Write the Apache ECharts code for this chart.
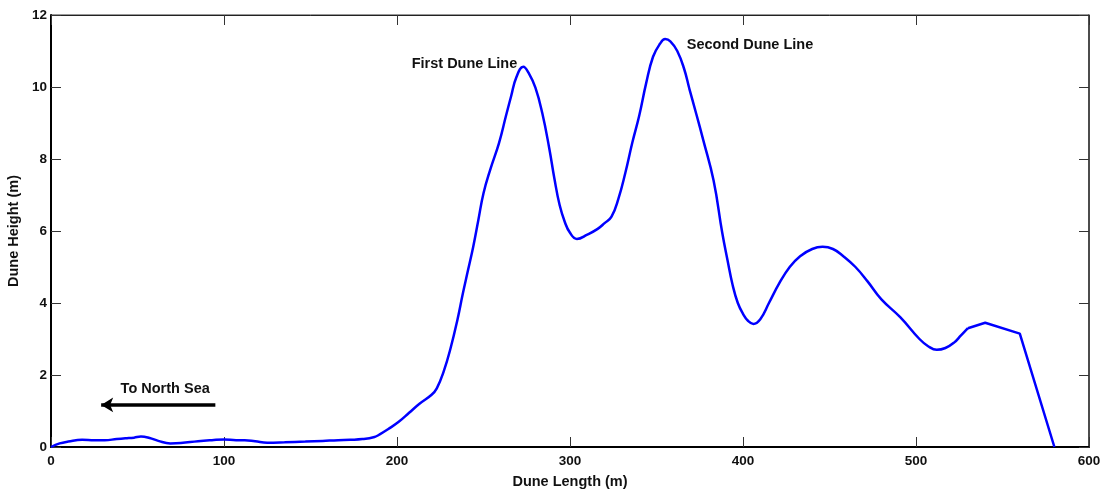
<!DOCTYPE html>
<html><head><meta charset="utf-8">
<script src="https://cdn.jsdelivr.net/npm/echarts@6/dist/echarts.min.js"></script>
<style>html,body{margin:0;padding:0;background:#fff}#c{width:1106px;height:491px}</style>
</head><body><div id="c"></div>
<script>
const dist = [0,5,10,18,25,31,38,43,48,52,57,62,69,75,85,93,100,107,112,118,125,135,147,157,166,173,180,187,190,195,201,207,213,220,223,227,231,235,238,241,244,247,250,254,259,263,266,269,273,276,280,284,288,291,294,297,300,304,310,316,320,324,328,332,336,340,344,348,352,355,358,362,366,369,373,377,383,388,391,394,397,400,403,406,410,415,421,427,433,440,446,452,458,465,472,480,491,502,507,512,517,522,526,530];
const height = [0,0.1,0.15,0.2,0.19,0.19,0.22,0.24,0.26,0.29,0.25,0.17,0.1,0.11,0.16,0.19,0.21,0.19,0.19,0.16,0.12,0.13,0.15,0.17,0.19,0.2,0.22,0.28,0.35,0.5,0.7,0.95,1.2,1.45,1.63,2.1,2.75,3.55,4.25,4.9,5.55,6.3,7.05,7.72,8.45,9.2,9.75,10.27,10.56,10.4,9.98,9.27,8.3,7.45,6.72,6.25,5.95,5.78,5.9,6.06,6.22,6.4,6.9,7.62,8.45,9.2,10.1,10.84,11.2,11.33,11.27,11.0,10.5,9.95,9.25,8.53,7.4,5.95,5.2,4.5,4.0,3.7,3.5,3.42,3.55,4.0,4.55,5.0,5.3,5.5,5.56,5.5,5.3,5.0,4.6,4.1,3.6,3.0,2.8,2.7,2.75,2.9,3.1,3.3];
const tailDist = [530,540,560,580];
const tailHeight = [3.3,3.45,3.15,0];
const xTicks = [0,100,200,300,400,500,600];
const yTicks = [0,2,4,6,8,10,12];
const notes = [
  {text:'First Dune Line', x:269.5, y:10.64, align:'right'},
  {text:'Second Dune Line', x:367.5, y:11.16, align:'left'},
  {text:'To North Sea', x:66, y:1.61, align:'center'}
];
const arrow = {from:[95,1.17], to:[29,1.17]};

const F = 'Liberation Sans, Arial, sans-serif';
const chart = echarts.init(document.getElementById('c'));
const tickStyle = {show:true, inside:true, length:10, lineStyle:{color:'#333', width:1}};
chart.setOption({
  animation:false,
  grid:{left:51, right:17, top:15, bottom:44, containLabel:false, outerBoundsMode:'none',
    show:true, borderColor:'#333', borderWidth:1, backgroundColor:'transparent'},
  xAxis:[{
    type:'value', min:0, max:600, interval:100, position:'bottom',
    name:'Dune Length (m)', nameLocation:'middle', nameGap:27,
    nameTextStyle:{fontFamily:F, fontWeight:'bold', fontSize:14.5, color:'#111'},
    axisLine:{show:true, onZero:false, lineStyle:{color:'#000', width:2}},
    axisTick:tickStyle,
    axisLabel:{fontFamily:F, fontWeight:'bold', fontSize:13.5, color:'#111', margin:7,
      formatter:v=>xTicks.includes(v)?String(v):''},
    splitLine:{show:false}
  },{
    type:'value', min:0, max:600, interval:100, position:'top', show:true,
    axisLine:{show:true, onZero:false, lineStyle:{color:'#222', width:1}},
    axisTick:tickStyle, axisLabel:{show:false}, splitLine:{show:false}
  }],
  yAxis:[{
    type:'value', min:0, max:12, interval:2, position:'left',
    name:'Dune Height (m)', nameLocation:'middle', nameGap:23, nameRotate:90,
    nameTextStyle:{fontFamily:F, fontWeight:'bold', fontSize:14.5, color:'#111'},
    axisLine:{show:true, onZero:false, lineStyle:{color:'#000', width:2}},
    axisTick:tickStyle,
    axisLabel:{fontFamily:F, fontWeight:'bold', fontSize:13.5, color:'#111', margin:4,
      formatter:v=>yTicks.includes(v)?String(v):''},
    splitLine:{show:false}
  },{
    type:'value', min:0, max:12, interval:2, position:'right', show:true,
    axisLine:{show:true, onZero:false, lineStyle:{color:'#333', width:1.5}},
    axisTick:tickStyle, axisLabel:{show:false}, splitLine:{show:false}
  }],
  series:[{
    type:'line', data:dist.map((d,i)=>[d,height[i]]), smooth:0.45, symbol:'none',
    lineStyle:{color:'#0000ff', width:2.5}, z:3,
    markLine:{silent:true, symbol:['none','arrow'], symbolSize:[11,12],
      lineStyle:{color:'#000', width:3.5, type:'solid'}, label:{show:false},
      data:[[{coord:arrow.from},{coord:arrow.to}]]},
    markPoint:{silent:true, symbol:'circle', symbolSize:0,
      data:notes.map(n=>({coord:[n.x,n.y], value:n.text,
        label:{show:true, formatter:n.text, position:'inside', align:n.align, verticalAlign:'middle',
          fontFamily:F, fontWeight:'bold', fontSize:14.5, color:'#111'}}))}
  },{
    type:'line', data:tailDist.map((d,i)=>[d,tailHeight[i]]), smooth:false, symbol:'none',
    lineStyle:{color:'#0000ff', width:2.5}, z:3
  },{
    type:'line', xAxisIndex:1, yAxisIndex:1, data:[[tailDist[0], tailHeight[0]]], symbol:'none',
    silent:true, lineStyle:{opacity:0}
  }]
});
</script></body></html>
